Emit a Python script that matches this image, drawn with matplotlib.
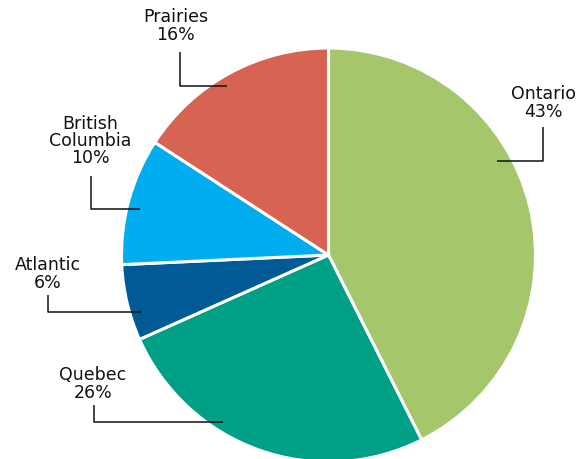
import matplotlib.pyplot as plt

# Share by region
regions = ['Ontario', 'Quebec', 'Atlantic', 'British\nColumbia', 'Prairies']
shares = [43, 26, 6, 10, 16]
colors = ['#A5C66B', '#00A086', '#005A96', '#00AEEF', '#D76352']

W, H = 587, 459
fig = plt.figure(figsize=(W / 100, H / 100), dpi=100)
ax = fig.add_axes([0, 0, 1, 1])

ax.pie(shares, colors=colors, startangle=90, counterclock=False,
       center=(328.5, H - 255), radius=207,
       wedgeprops=dict(edgecolor='white', linewidth=2.2))

# label text position, top of the leader line, elbow, end (pixels from top-left)
callouts = [
    ((543, 103), (543, 127), (543, 161), (497, 161)),
    ((93, 384), (94, 405), (94, 422), (223, 422)),
    ((48, 274), (48, 295), (48, 312), (141, 312)),
    ((90, 141), (91, 176), (91, 209), (140, 209)),
    ((176, 26), (180, 52), (180, 86), (227, 86)),
]

for (name, pct), (txt, top, elbow, end) in zip(zip(regions, shares), callouts):
    ax.text(txt[0], H - txt[1], f'{name}\n{pct}%', ha='center', va='center',
            fontsize=12.5, family='DejaVu Sans', linespacing=0.95,
            color='#111111')
    ax.plot([top[0], elbow[0], end[0]], [H - top[1], H - elbow[1], H - end[1]],
            color='#111111', lw=1.1, solid_capstyle='butt')

ax.set_xlim(0, W)
ax.set_ylim(0, H)
ax.set_aspect('equal')
ax.axis('off')

plt.savefig('out.png', dpi=100)
plt.close()
